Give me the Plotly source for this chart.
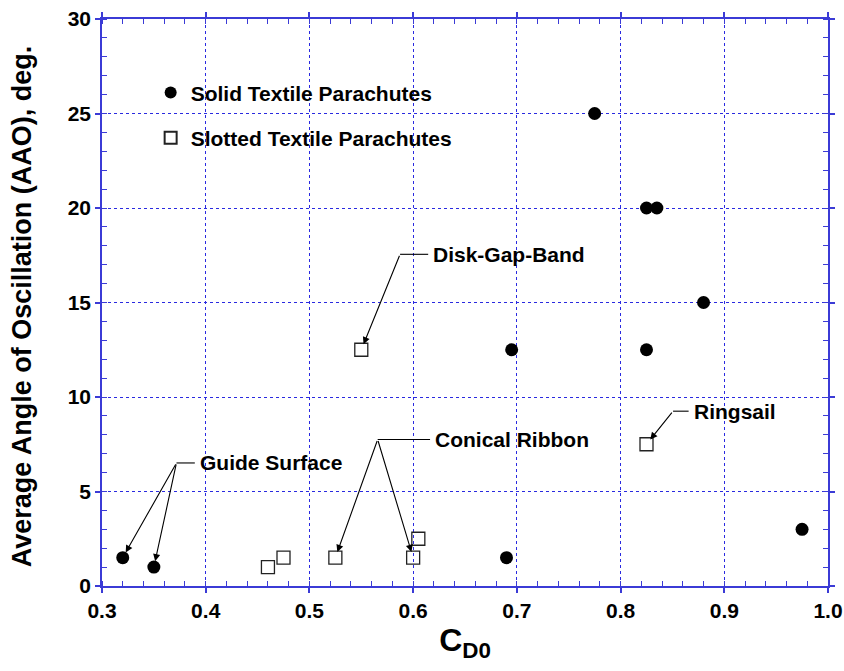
import plotly.graph_objects as go

# ---- data ----
solid_cd0 = [0.32, 0.35, 0.69, 0.695, 0.775, 0.825, 0.835, 0.88, 0.825, 0.975]
solid_aao = [1.5, 1.0, 1.5, 12.5, 25.0, 20.0, 20.0, 15.0, 12.5, 3.0]

slotted_cd0 = [0.46, 0.475, 0.525, 0.60, 0.605, 0.55, 0.825]
slotted_aao = [1.0, 1.5, 1.5, 1.5, 2.5, 12.5, 7.5]

x_ticks = [0.3, 0.4, 0.5, 0.6, 0.7, 0.8, 0.9, 1.0]
x_tick_labels = ["0.3", "0.4", "0.5", "0.6", "0.7", "0.8", "0.9", "1.0"]
y_ticks = [0, 5, 10, 15, 20, 25, 30]

# callouts: label, junction point (data), line end x, target points
callout_labels = ["Guide Surface", "Conical Ribbon", "Disk-Gap-Band", "Ringsail"]
callout_junction = [(0.3718, 6.51), (0.5658, 7.75), (0.5874, 17.55), (0.8506, 9.25)]
callout_line_end = [0.3895, 0.6163, 0.6145, 0.8656]
callout_targets = [
    [(0.32, 1.5), (0.35, 1.0)],
    [(0.525, 1.5), (0.60, 1.5)],
    [(0.55, 12.5)],
    [(0.825, 7.5)],
]

FONT = "Arial, Liberation Sans, Helvetica, sans-serif"
AXC = "#3b3bd6"
GRIDC = "#2a2ae0"

fig = go.Figure()
fig.add_trace(go.Scatter(
    x=solid_cd0, y=solid_aao, mode="markers", name="<b>Solid Textile Parachutes</b>",
    legendgroup="a",
    marker=dict(symbol="circle", size=13, color="black"),
))
fig.add_trace(go.Scatter(
    x=slotted_cd0, y=slotted_aao, mode="markers", name="<b>Slotted Textile Parachutes</b>",
    legendgroup="b",
    marker=dict(symbol="square-open", size=13, color="#222222", line=dict(width=1.3)),
))

annotations = []
shapes = []
for lab, (jx, jy), lx, tg in zip(callout_labels, callout_junction, callout_line_end, callout_targets):
    for (tx, ty) in tg:
        annotations.append(dict(
            x=tx, y=ty, xref="x", yref="y", ax=jx, ay=jy, axref="x", ayref="y",
            text="", showarrow=True, arrowhead=2, arrowsize=1.3, arrowwidth=1.1,
            arrowcolor="black", standoff=6,
        ))
    shapes.append(dict(type="line", xref="x", yref="y", x0=jx, y0=jy, x1=lx, y1=jy,
                       line=dict(color="black", width=1.1)))
    annotations.append(dict(
        x=lx, y=jy, xref="x", yref="y", text="<b>%s</b>" % lab, showarrow=False,
        xanchor="left", yanchor="middle", xshift=3,
        font=dict(family=FONT, size=21, color="black"),
    ))

annotations.append(dict(
    x=-0.109, y=0.493, xref="paper", yref="paper", text="<b>Average Angle of Oscillation (AAO), deg.</b>",
    textangle=-90, showarrow=False, xanchor="center", yanchor="middle",
    font=dict(family=FONT, size=27, color="black"),
))

fig.update_layout(
    width=844, height=671,
    margin=dict(l=102, r=16, t=19, b=85),
    paper_bgcolor="white", plot_bgcolor="white",
    showlegend=True,
    legend=dict(
        x=0.067, y=0.906, xanchor="left", yanchor="top",
        bgcolor="rgba(0,0,0,0)", borderwidth=0,
        font=dict(family=FONT, size=21, color="black"),
        tracegroupgap=15, itemsizing="constant",
    ),
    annotations=annotations,
    shapes=shapes,
    xaxis=dict(
        range=[0.3, 1.0], tickvals=x_ticks, ticktext=["<b>%s</b>" % t for t in x_tick_labels],
        showline=True, linecolor=AXC, linewidth=1.5, mirror="ticks",
        ticks="outside", ticklen=5, tickcolor=AXC, tickwidth=1.5,
        showgrid=True, gridcolor=GRIDC, griddash="dot", gridwidth=1.3,
        minor=dict(dtick=0.02, ticks="inside", ticklen=5, tickcolor=AXC, tickwidth=1, showgrid=False),
        tickfont=dict(family=FONT, size=21, color="black"),
        zeroline=False, automargin=False, ticklabeloverflow="allow",
        title=dict(text="<b>C<sub>D0</sub></b>", font=dict(family=FONT, size=32, color="black"), standoff=8),
    ),
    yaxis=dict(
        range=[0, 30], tickvals=y_ticks, ticktext=["<b>%d</b>" % t for t in y_ticks],
        showline=True, linecolor=AXC, linewidth=1.5, mirror="ticks",
        ticks="outside", ticklen=5, tickcolor=AXC, tickwidth=1.5,
        showgrid=True, gridcolor=GRIDC, griddash="dot", gridwidth=1.3,
        minor=dict(dtick=1, ticks="inside", ticklen=5, tickcolor=AXC, tickwidth=1, showgrid=False),
        tickfont=dict(family=FONT, size=21, color="black"),
        zeroline=False, automargin=False, ticklabeloverflow="allow",
    ),
)

# remove the default page margin so the 844x671 figure fills the window exactly
fig.write_html(
    "out.html",
    config={"displayModeBar": False},
    post_script="document.body.style.margin='0';document.body.style.overflow='hidden';",
)
